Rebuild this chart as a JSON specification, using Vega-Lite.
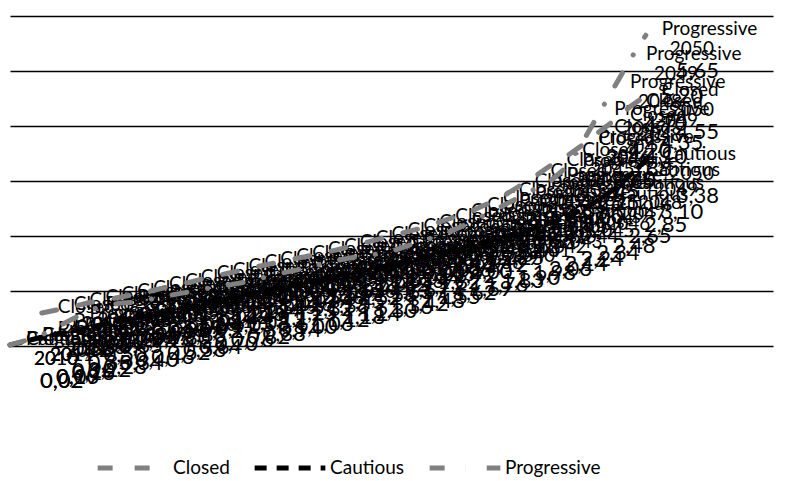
{
  "$schema": "https://vega.github.io/schema/vega-lite/v6.json",
  "width": 763,
  "height": 330,
  "autosize": {"type": "none"},
  "padding": {"left": 10, "top": 16, "right": 20, "bottom": 135},
  "config": {
    "view": {"stroke": null},
    "locale": {"number": {"decimal": ",", "thousands": ".", "grouping": [3], "currency": ["", " €"]}},
    "font": "Lato"
  },
  "data": {"values": [
    {"series":"Closed","year":2012,"value":0.60},{"series":"Closed","year":2013,"value":0.66},{"series":"Closed","year":2014,"value":0.72},{"series":"Closed","year":2015,"value":0.79},{"series":"Closed","year":2016,"value":0.84},{"series":"Closed","year":2017,"value":0.89},{"series":"Closed","year":2018,"value":0.95},{"series":"Closed","year":2019,"value":1.01},{"series":"Closed","year":2020,"value":1.08},{"series":"Closed","year":2021,"value":1.14},{"series":"Closed","year":2022,"value":1.21},{"series":"Closed","year":2023,"value":1.28},{"series":"Closed","year":2024,"value":1.34},{"series":"Closed","year":2025,"value":1.41},{"series":"Closed","year":2026,"value":1.47},{"series":"Closed","year":2027,"value":1.53},{"series":"Closed","year":2028,"value":1.59},{"series":"Closed","year":2029,"value":1.65},{"series":"Closed","year":2030,"value":1.71},{"series":"Closed","year":2031,"value":1.78},{"series":"Closed","year":2032,"value":1.85},{"series":"Closed","year":2033,"value":1.93},{"series":"Closed","year":2034,"value":2.00},{"series":"Closed","year":2035,"value":2.08},{"series":"Closed","year":2036,"value":2.15},{"series":"Closed","year":2037,"value":2.25},{"series":"Closed","year":2038,"value":2.35},{"series":"Closed","year":2039,"value":2.45},{"series":"Closed","year":2040,"value":2.58},{"series":"Closed","year":2041,"value":2.72},{"series":"Closed","year":2042,"value":2.90},{"series":"Closed","year":2043,"value":3.08},{"series":"Closed","year":2044,"value":3.28},{"series":"Closed","year":2045,"value":3.45},{"series":"Closed","year":2046,"value":3.65},{"series":"Closed","year":2047,"value":3.88},{"series":"Closed","year":2048,"value":4.10},{"series":"Closed","year":2049,"value":4.35},{"series":"Closed","year":2050,"value":4.55},
    {"series":"Cautious","year":2010,"value":0.02},{"series":"Cautious","year":2011,"value":0.09},{"series":"Cautious","year":2012,"value":0.16},{"series":"Cautious","year":2013,"value":0.22},{"series":"Cautious","year":2014,"value":0.28},{"series":"Cautious","year":2015,"value":0.34},{"series":"Cautious","year":2016,"value":0.40},{"series":"Cautious","year":2017,"value":0.46},{"series":"Cautious","year":2018,"value":0.52},{"series":"Cautious","year":2019,"value":0.58},{"series":"Cautious","year":2020,"value":0.64},{"series":"Cautious","year":2021,"value":0.70},{"series":"Cautious","year":2022,"value":0.76},{"series":"Cautious","year":2023,"value":0.82},{"series":"Cautious","year":2024,"value":0.88},{"series":"Cautious","year":2025,"value":0.94},{"series":"Cautious","year":2026,"value":1.00},{"series":"Cautious","year":2027,"value":1.06},{"series":"Cautious","year":2028,"value":1.12},{"series":"Cautious","year":2029,"value":1.18},{"series":"Cautious","year":2030,"value":1.24},{"series":"Cautious","year":2031,"value":1.30},{"series":"Cautious","year":2032,"value":1.36},{"series":"Cautious","year":2033,"value":1.42},{"series":"Cautious","year":2034,"value":1.48},{"series":"Cautious","year":2035,"value":1.55},{"series":"Cautious","year":2036,"value":1.62},{"series":"Cautious","year":2037,"value":1.69},{"series":"Cautious","year":2038,"value":1.76},{"series":"Cautious","year":2039,"value":1.83},{"series":"Cautious","year":2040,"value":1.90},{"series":"Cautious","year":2041,"value":1.98},{"series":"Cautious","year":2042,"value":2.06},{"series":"Cautious","year":2043,"value":2.14},{"series":"Cautious","year":2044,"value":2.24},{"series":"Cautious","year":2045,"value":2.34},{"series":"Cautious","year":2046,"value":2.48},{"series":"Cautious","year":2047,"value":2.65},{"series":"Cautious","year":2048,"value":2.85},{"series":"Cautious","year":2049,"value":3.10},{"series":"Cautious","year":2050,"value":3.38},
    {"series":"Progressive","year":2010,"value":0.02},{"series":"Progressive","year":2011,"value":0.10},{"series":"Progressive","year":2012,"value":0.20},{"series":"Progressive","year":2013,"value":0.35},{"series":"Progressive","year":2014,"value":0.50},{"series":"Progressive","year":2015,"value":0.65},{"series":"Progressive","year":2016,"value":0.74},{"series":"Progressive","year":2017,"value":0.78},{"series":"Progressive","year":2018,"value":0.80},{"series":"Progressive","year":2019,"value":0.86},{"series":"Progressive","year":2020,"value":0.92},{"series":"Progressive","year":2021,"value":0.97},{"series":"Progressive","year":2022,"value":1.03},{"series":"Progressive","year":2023,"value":1.08},{"series":"Progressive","year":2024,"value":1.12},{"series":"Progressive","year":2025,"value":1.17},{"series":"Progressive","year":2026,"value":1.25},{"series":"Progressive","year":2027,"value":1.32},{"series":"Progressive","year":2028,"value":1.38},{"series":"Progressive","year":2029,"value":1.45},{"series":"Progressive","year":2030,"value":1.52},{"series":"Progressive","year":2031,"value":1.58},{"series":"Progressive","year":2032,"value":1.63},{"series":"Progressive","year":2033,"value":1.67},{"series":"Progressive","year":2034,"value":1.72},{"series":"Progressive","year":2035,"value":1.82},{"series":"Progressive","year":2036,"value":1.92},{"series":"Progressive","year":2037,"value":2.00},{"series":"Progressive","year":2038,"value":2.12},{"series":"Progressive","year":2039,"value":2.25},{"series":"Progressive","year":2040,"value":2.40},{"series":"Progressive","year":2041,"value":2.55},{"series":"Progressive","year":2042,"value":2.70},{"series":"Progressive","year":2043,"value":2.85},{"series":"Progressive","year":2044,"value":3.00},{"series":"Progressive","year":2045,"value":3.25},{"series":"Progressive","year":2046,"value":3.70},{"series":"Progressive","year":2047,"value":4.20},{"series":"Progressive","year":2048,"value":4.70},{"series":"Progressive","year":2049,"value":5.20},{"series":"Progressive","year":2050,"value":5.65}
  ]},
  "encoding": {
    "x": {"field": "year", "type": "quantitative", "scale": {"domain": [2010, 2058], "nice": false, "zero": false}, "axis": null},
    "y": {"field": "value", "type": "quantitative", "scale": {"domain": [0, 6], "nice": false},
      "axis": {"values": [0,1,2,3,4,5,6], "grid": true, "gridColor": "#000000", "gridWidth": 1.5, "gridOpacity": 1, "domain": false, "ticks": false, "labels": false, "title": null}}
  },
  "layer": [
    {
      "mark": {"type": "text", "align": "left", "baseline": "middle", "dx": 30, "dy": 36, "fontSize": 22, "color": "#000000"},
      "encoding": {"text": {"field": "value", "type": "quantitative", "format": ".2f"}}
    },
    {
      "mark": {"type": "text", "align": "left", "baseline": "middle", "dx": 24, "dy": 14, "fontSize": 19, "color": "#000000"},
      "encoding": {"text": {"field": "year", "type": "quantitative", "format": "d"}}
    },
    {
      "mark": {"type": "text", "align": "left", "baseline": "middle", "dx": 16, "dy": -6, "fontSize": 19, "color": "#000000"},
      "encoding": {"text": {"field": "series", "type": "nominal"}}
    },
    {
      "mark": {"type": "line", "strokeWidth": 5, "strokeCap": "round"},
      "encoding": {
        "color": {"field": "series", "type": "nominal", "sort": ["Closed","Cautious","Progressive"],
          "scale": {"domain": ["Closed","Cautious","Progressive"], "range": ["#808080","#000000","#808080"]},
          "legend": {"orient": "none", "legendX": 85, "legendY": 414, "direction": "horizontal", "title": null, "symbolType": "stroke", "symbolSize": 5000, "symbolStrokeWidth": 5, "labelFontSize": 19, "labelFont": "Lato", "labelColor": "#000000", "columnPadding": 14, "labelOffset": 2}},
        "strokeDash": {"field": "series", "type": "nominal", "sort": ["Closed","Cautious","Progressive"],
          "scale": {"domain": ["Closed","Cautious","Progressive"], "range": [[15,22],[12,10],[15,21,0.1,21]]},
          "legend": {"orient": "none", "legendX": 85, "legendY": 414, "direction": "horizontal", "title": null, "symbolType": "stroke", "symbolSize": 5000, "symbolStrokeWidth": 5, "labelFontSize": 19, "labelFont": "Lato", "labelColor": "#000000", "columnPadding": 14, "labelOffset": 2}},
        "order": {"field": "year", "type": "quantitative"}
      }
    }
  ]
}
